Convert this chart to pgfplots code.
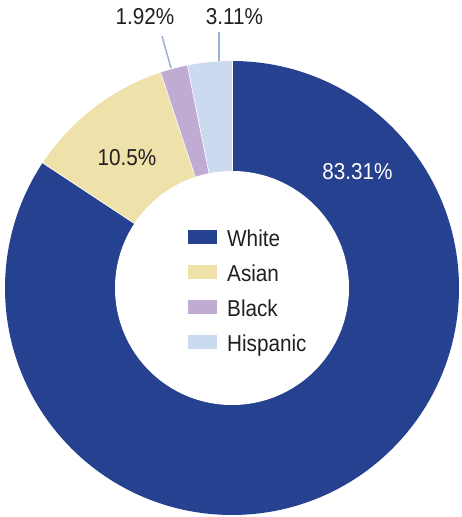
\documentclass[border=0pt]{standalone}
\usepackage{fontspec}
\setmainfont{Liberation Sans}[FakeStretch=0.9]
\usepackage{pgfplots}
\usepackage{pgfplotstable}
\pgfplotsset{compat=1.18}

\definecolor{cWhite}{HTML}{26418F}
\definecolor{cAsian}{HTML}{EFE1AA}
\definecolor{cBlack}{HTML}{C0ACD2}
\definecolor{cHisp}{HTML}{CBDAEF}
\definecolor{cLead}{HTML}{9DB0D4}
\definecolor{cText}{HTML}{231F20}

% shares in percent, clockwise from the top
\pgfplotstableread{
group    share
White    83.31
Asian    10.5
Black    1.92
Hispanic 3.11
}\shares

\pgfplotstablegetelem{0}{share}\of\shares \let\sW\pgfplotsretval
\pgfplotstablegetelem{1}{share}\of\shares \let\sA\pgfplotsretval
\pgfplotstablegetelem{2}{share}\of\shares \let\sB\pgfplotsretval
\pgfplotstablegetelem{3}{share}\of\shares \let\sH\pgfplotsretval

\pgfmathsetmacro\tot{\sW+\sA+\sB+\sH}
\pgfmathsetmacro\aA{90-360*(\sW/\tot)}
\pgfmathsetmacro\aB{\aA-360*(\sA/\tot)}
\pgfmathsetmacro\aC{\aB-360*(\sB/\tot)}
\pgfmathsetmacro\aD{\aC-360*(\sH/\tot)}

\tikzset{lbl/.style={inner sep=0pt, font=\fontsize{23}{27}\selectfont}}

% centre and radii in pt (1 unit = 1pt)
\def\cx{232}\def\cy{229}
\newcommand\sector[3]{%
  \fill[#1] (axis cs:\cx,\cy) -- ++(#2:227pt)
    arc[start angle=#2, end angle=#3, radius=227pt] -- cycle;}
\newcommand\divider[1]{%
  \draw[white, line width=0.6pt] (axis cs:\cx,\cy) -- ++(#1:228pt);}
\newcommand\legitem[3]{%
  \fill[#1] (axis cs:188,#3+3) rectangle (axis cs:217,#3+16.5);
  \node[lbl, anchor=base west, text=cText] at (axis cs:227,#3) {#2};}

\begin{document}
\begin{tikzpicture}
\begin{axis}[
    x=1pt, y=1pt,
    xmin=0, xmax=462, ymin=0, ymax=517,
    hide axis, scale only axis, clip=false,
]
\path (axis cs:0,0) rectangle (axis cs:462,517);

\sector{cWhite}{90}{\aA}
\sector{cAsian}{\aA}{\aB}
\sector{cBlack}{\aB}{\aC}
\sector{cHisp}{\aC}{\aD}

\divider{90}
\divider{\aA}
\divider{\aB}
\divider{\aC}
\fill[white] (axis cs:\cx,\cy) circle[radius=117pt];

% leader lines
\draw[cLead, line width=1.5pt] (axis cs:171,449) -- (axis cs:162,481);
\draw[cLead, line width=1.5pt] (axis cs:219,456) -- (axis cs:219,485);

% slice labels
\node[lbl, anchor=base, text=white] at (axis cs:357.5,337) {83.31\%};
\node[lbl, anchor=base, text=cText] at (axis cs:127,351) {10.5\%};
\node[lbl, anchor=base, text=cText] at (axis cs:145,492) {1.92\%};
\node[lbl, anchor=base, text=cText] at (axis cs:234.5,492) {3.11\%};

% legend
\legitem{cWhite}{White}{270.3}
\legitem{cAsian}{Asian}{235.3}
\legitem{cBlack}{Black}{200}
\legitem{cHisp}{Hispanic}{165}
\end{axis}
\end{tikzpicture}
\end{document}
